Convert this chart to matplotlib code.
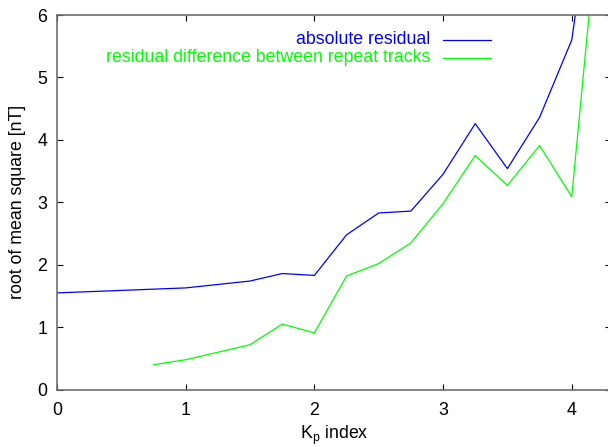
import matplotlib
matplotlib.use("Agg")
import matplotlib.pyplot as plt
from matplotlib.lines import Line2D

plt.rcParams['font.family'] = ['Liberation Sans', 'DejaVu Sans']

# Data
kp_abs = [0.0, 1.0, 1.5, 1.75, 2.0, 2.25, 2.5, 2.75, 3.0, 3.25, 3.5, 3.75, 4.0, 4.25]
rms_abs = [1.55, 1.63, 1.74, 1.86, 1.83, 2.48, 2.83, 2.86, 3.45, 4.26, 3.54, 4.36, 5.60, 9.2]
kp_diff = [0.75, 1.0, 1.5, 1.75, 2.0, 2.25, 2.5, 2.75, 3.0, 3.25, 3.5, 3.75, 4.0, 4.25]
rms_diff = [0.40, 0.48, 0.72, 1.05, 0.91, 1.82, 2.02, 2.35, 2.98, 3.75, 3.27, 3.91, 3.09, 8.5]
labels = ["absolute residual", "residual difference between repeat tracks"]
colors = ["#0000ff", "#00ff00"]

W, H = 608, 447
fig = plt.figure(figsize=(W / 100, H / 100), dpi=100)
x0, x1, ytop, ybot = 57, 611, 15, 389.7
ax = fig.add_axes([x0 / W, (H - ybot) / H, (x1 - x0) / W, (ybot - ytop) / H])

ax.plot(kp_abs, rms_abs, color=colors[0], lw=0.9)
ax.plot(kp_diff, rms_diff, color=colors[1], lw=0.9)

ax.set_xlim(0, 4.305)
ax.set_ylim(0, 6)
ax.set_xticks([0, 1, 2, 3, 4])
ax.set_yticks([0, 1, 2, 3, 4, 5, 6])
ax.tick_params(direction='in', length=4, width=0.8, color='black',
               top=True, right=True, labelsize=12.8)
ax.tick_params(axis='x', pad=9)
ax.tick_params(axis='y', pad=7)
for s in ax.spines.values():
    s.set_color('#707070')
    s.set_linewidth(1.2)

ax.set_xlabel(r"K$_\mathregular{p}$ index", fontsize=12.8, labelpad=3.5)
ax.set_ylabel("root of mean square [nT]", fontsize=12.8, labelpad=8)

# Manual legend (gnuplot style: text right-aligned, sample on the right)
rows = [40, 58]
for lab, col, yy in zip(labels, colors, rows):
    fig.text(430 / W, (H - yy) / H, lab, color=col, ha='right', va='center', fontsize=12.8)
    fig.add_artist(Line2D([443 / W, 491 / W], [(H - yy) / H] * 2, color=col, lw=0.9,
                          transform=fig.transFigure))

fig.savefig("out.png", dpi=100)
